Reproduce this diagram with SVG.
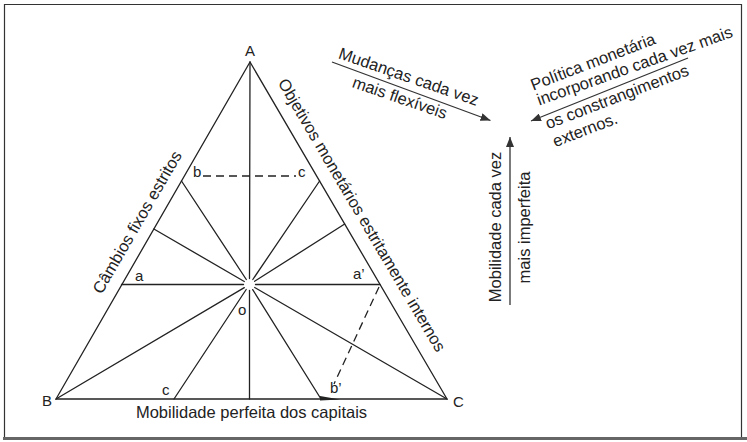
<svg xmlns="http://www.w3.org/2000/svg" width="747" height="442" viewBox="0 0 747 442">
<style>
  .ln { stroke:#222; stroke-width:1.3; fill:none; stroke-linecap:round; }
  .dash { stroke:#222; stroke-width:1.3; fill:none; stroke-dasharray:8 5; }
  .t { font-family:"Liberation Sans", Arial, sans-serif; font-size:16.5px; fill:#222; }
  .lbl { font-family:"Liberation Sans", Arial, sans-serif; font-size:15px; fill:#222; }
  .arr { stroke:#333; stroke-width:1.3; fill:none; marker-end:url(#ah); }
</style>
<defs>
  <marker id="ah" viewBox="0 0 10 8" refX="10" refY="4" markerWidth="10" markerHeight="8" markerUnits="userSpaceOnUse" orient="auto">
    <path d="M0,0 L10,4 L0,8 Z" fill="#333"/>
  </marker>
</defs>
<rect x="0" y="0" width="747" height="442" fill="#fff"/>
<path d="M4.5,438 V4.5 H741.5 V438" fill="none" stroke="#333" stroke-width="1.2"/>
<line x1="3" y1="438.5" x2="747" y2="438.5" stroke="#666" stroke-width="3"/>

<g id="triangle">
  <polygon class="ln" points="250,62 56,399 447,399"/>
  <polygon points="320,396 340,399.5 320,400.5" fill="#222"/>
</g>

<g id="connectors">
  <line class="ln" x1="249.5" y1="278.5" x2="250" y2="62"/>
  <line class="ln" x1="252.8" y1="279.5" x2="319.6" y2="181"/>
  <line class="ln" x1="254.6" y1="281.3" x2="344.7" y2="224"/>
  <line class="ln" x1="255.5" y1="284.5" x2="380" y2="284.5"/>
  <line class="ln" x1="254.7" y1="287.5" x2="447" y2="399"/>
  <line class="ln" x1="252.7" y1="289.6" x2="321" y2="399"/>
  <line class="ln" x1="249.5" y1="290.5" x2="249.5" y2="399"/>
  <line class="ln" x1="246.2" y1="289.5" x2="174" y2="399"/>
  <line class="ln" x1="244.3" y1="287.6" x2="56" y2="399"/>
  <line class="ln" x1="243.5" y1="284.5" x2="121.5" y2="284.5"/>
  <line class="ln" x1="244.3" y1="281.5" x2="153.9" y2="229"/>
  <line class="ln" x1="246.3" y1="279.5" x2="181.5" y2="181"/>
  <line class="dash" x1="203" y1="176" x2="296" y2="176"/>
  <line class="dash" x1="379" y1="287" x2="334" y2="384"/>
  <line class="arr" x1="332" y1="62" x2="490.5" y2="120.5"/>
  <line class="arr" x1="688" y1="58" x2="531" y2="121"/>
  <line class="arr" x1="510" y1="305" x2="510" y2="137"/>
</g>

<g id="vertex-labels">
  <text class="lbl" x="250" y="56" text-anchor="middle">A</text>
  <text class="lbl" x="42" y="406">B</text>
  <text class="lbl" x="453" y="407">C</text>
  <text class="lbl" x="193" y="177">b</text>
  <text class="lbl" x="298" y="177">c</text>
  <text class="lbl" x="135" y="281">a</text>
  <text class="lbl" x="353" y="279">a’</text>
  <text class="lbl" x="238" y="315">o</text>
  <text class="lbl" x="162" y="395">c</text>
  <text class="lbl" x="330" y="393">b’</text>
</g>

<g id="side-labels">
  <text class="t" x="142" y="225" text-anchor="middle" transform="rotate(-60 142 225)">Câmbios fixos estritos</text>
  <text class="t" x="357" y="218" text-anchor="middle" transform="rotate(59.5 357 218)">Objetivos monetários estritamente internos</text>
  <text class="t" x="251.5" y="418" text-anchor="middle">Mobilidade perfeita dos capitais</text>
</g>

<g id="arrow-flexible">
  <text class="t" x="407" y="82" text-anchor="middle" transform="rotate(19 407 82)">Mudanças cada vez</text>
  <text class="t" x="398" y="103" text-anchor="middle" transform="rotate(19 398 103)">mais flexíveis</text>
</g>

<g id="arrow-policy">
  <text class="t" x="595" y="67" text-anchor="middle" transform="rotate(-21 595 67)">Política monetária</text>
  <text class="t" x="636.5" y="71" text-anchor="middle" transform="rotate(-19.5 636.5 71)">incorporando cada vez mais</text>
  <text class="t" x="619" y="102" text-anchor="middle" transform="rotate(-21 619 102)">os constrangimentos</text>
  <text class="t" x="587" y="135" text-anchor="middle" transform="rotate(-21 587 135)">externos.</text>
</g>

<g id="arrow-mobility">
  <text class="t" x="501" y="227" text-anchor="middle" transform="rotate(-90 501 227)">Mobilidade cada vez</text>
  <text class="t" x="530" y="227.5" text-anchor="middle" transform="rotate(-90 530 227.5)">mais imperfeita</text>
</g>
</svg>
